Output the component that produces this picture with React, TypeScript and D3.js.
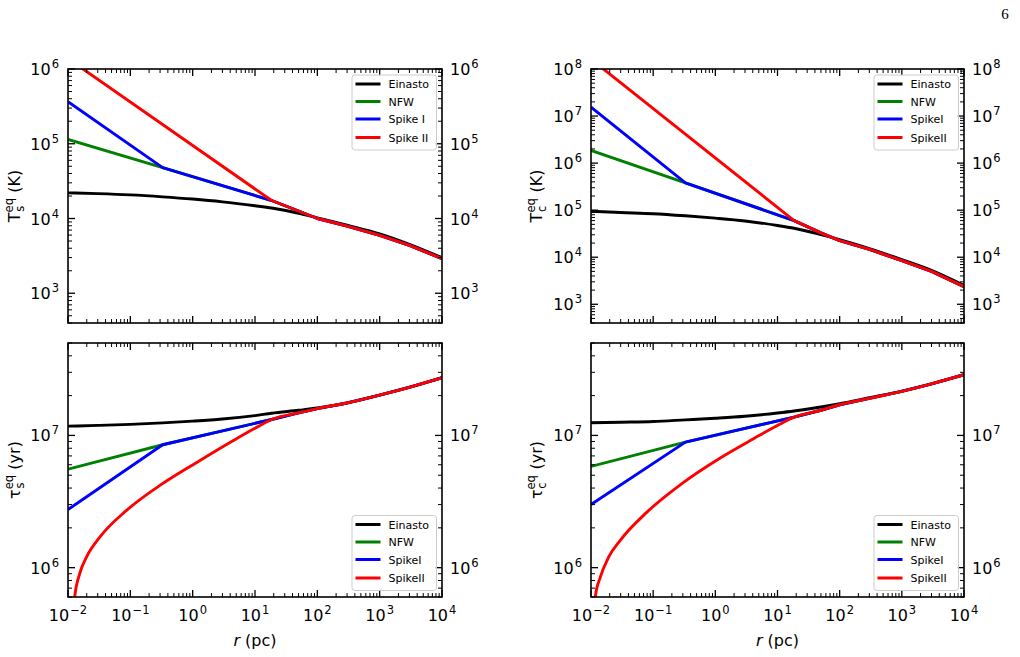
import React from 'react';
import * as d3 from 'd3';

const WIDTH = 1020;
const HEIGHT = 657;
const FONT = 'DejaVu Sans, sans-serif';

// radius samples (pc)
const rEinasto = [0.01, 0.03, 0.1, 0.33, 1, 3, 10, 18.5, 50, 100, 300, 1000, 3000, 10000];
const rProfile = [0.01, 0.33, 18.5, 50, 100, 300, 1000, 3000, 10000];
const rSpikeII = [0.01, 18.5, 50, 100, 300, 1000, 3000, 10000];
const rSpikeIITauS = [0.012, 0.01282, 0.01542, 0.01977, 0.03236, 0.0869, 0.298, 1.309, 4.5, 12.08, 18.5, 50, 100, 300, 1000, 3000, 10000];
const rSpikeIITauC = [0.0113, 0.01172, 0.01413, 0.01919, 0.02958, 0.0794, 0.3083, 1.2, 4.11, 11.04, 18.5, 50, 100, 300, 1000, 3000, 10000];

// equilibrium temperature, s (K)
const tsEinasto = [2.2e4, 2.15e4, 2.07e4, 1.95e4, 1.82e4, 1.67e4, 1.48e4, 1.38e4, 1.175e4, 1.02e4, 8.13e3, 6.24e3, 4.52e3, 2.99e3];
const tsNFW = [1.14e5, 4.8e4, 1.74e4, 1.26e4, 1.0e4, 7.9e3, 5.95e3, 4.37e3, 2.9e3];
const tsSpikeI = [3.65e5, 4.8e4, 1.74e4, 1.26e4, 1.0e4, 7.9e3, 5.95e3, 4.37e3, 2.9e3];
const tsSpikeII = [1.38e6, 1.74e4, 1.26e4, 1.0e4, 7.9e3, 5.95e3, 4.37e3, 2.9e3];

// equilibrium temperature, c (K)
const tcEinasto = [9.48e4, 8.91e4, 8.41e4, 7.59e4, 6.76e4, 5.89e4, 4.73e4, 4.12e4, 3.02e4, 2.37e4, 1.53e4, 8.91e3, 5.25e3, 2.51e3];
const tcNFW = [1.86e6, 3.8e5, 6.0e4, 3.3e4, 2.26e4, 1.46e4, 8.5e3, 5.0e3, 2.37e3];
const tcSpikeI = [1.55e7, 3.8e5, 6.0e4, 3.3e4, 2.26e4, 1.46e4, 8.5e3, 5.0e3, 2.37e3];
const tcSpikeII = [1.62e8, 6.0e4, 3.3e4, 2.26e4, 1.46e4, 8.5e3, 5.0e3, 2.37e3];

// equilibrium timescale, s (yr)
const tauSEinasto = [1.175e7, 1.191e7, 1.213e7, 1.245e7, 1.282e7, 1.33e7, 1.413e7, 1.472e7, 1.549e7, 1.611e7, 1.758e7, 2.018e7, 2.317e7, 2.729e7];
const tauSNFW = [5.56e6, 8.5e6, 1.32e7, 1.48e7, 1.596e7, 1.76e7, 2.02e7, 2.31e7, 2.73e7];
const tauSSpikeI = [2.75e6, 8.5e6, 1.32e7, 1.48e7, 1.596e7, 1.76e7, 2.02e7, 2.31e7, 2.73e7];
const tauSSpikeII = [4.0e5, 6.0e5, 9.0e5, 1.2e6, 1.7e6, 2.71e6, 4.19e6, 6.47e6, 9.16e6, 1.19e7, 1.32e7, 1.48e7, 1.596e7, 1.76e7, 2.02e7, 2.31e7, 2.73e7];

// equilibrium timescale, c (yr)
const tauCEinasto = [1.247e7, 1.259e7, 1.274e7, 1.312e7, 1.349e7, 1.396e7, 1.479e7, 1.531e7, 1.641e7, 1.738e7, 1.928e7, 2.163e7, 2.455e7, 2.877e7];
const tauCNFW = [5.83e6, 8.9e6, 1.374e7, 1.55e7, 1.706e7, 1.905e7, 2.153e7, 2.455e7, 2.877e7];
const tauCSpikeI = [3.0e6, 8.9e6, 1.374e7, 1.55e7, 1.706e7, 1.905e7, 2.153e7, 2.455e7, 2.877e7];
const tauCSpikeII = [4.5e5, 6.0e5, 8.49e5, 1.2e6, 1.61e6, 2.63e6, 4.42e6, 6.76e6, 9.44e6, 1.22e7, 1.374e7, 1.55e7, 1.706e7, 1.905e7, 2.153e7, 2.455e7, 2.877e7];

const COLORS = ['#000000', '#008000', '#0000ff', '#ff0000'];
const labelsSpaced = ['Einasto', 'NFW', 'Spike I', 'Spike II'];
const labelsJoined = ['Einasto', 'NFW', 'SpikeI', 'SpikeII'];

const X_DOMAIN: [number, number] = [1e-2, 1e4];

type Series = { r: number[]; v: number[]; smooth?: boolean };

interface PanelProps {
  id: string;
  left: number;
  top: number;
  width: number;
  height: number;
  yDomain: [number, number];
  series: Series[];
  legendLabels: string[];
  legendAtTop: boolean;
  symbol: string;
  sub: string;
  unit: string;
  labelX: number;
  showX: boolean;
}

const isMajor = (t: number) => Math.abs(Math.log10(t) - Math.round(Math.log10(t))) < 1e-6;
const expText = (t: number) => {
  const k = Math.round(Math.log10(t));
  return k < 0 ? '\u2212' + Math.abs(k) : String(k);
};

function Panel(p: PanelProps) {
  const { left, top, width: w, height: h } = p;
  const xs = d3.scaleLog().domain(X_DOMAIN).range([0, w]);
  const ys = d3.scaleLog().domain(p.yDomain).range([h, 0]);
  const makeLine = (smooth?: boolean) =>
    d3
      .line<[number, number]>()
      .x((d) => xs(d[0]))
      .y((d) => ys(d[1]))
      .curve(smooth ? d3.curveMonotoneX : d3.curveLinear);

  const xTicks = xs.ticks();
  const yTicks = ys.ticks();
  const MAJ = 7;
  const MIN = 4;

  const legW = 84.5;
  const legH = 75;
  const legX = w - 5.5 - legW;
  const legY = p.legendAtTop ? 6 : h - 6.5 - legH;
  const rowY = [9, 26.5, 44, 62.5];

  return (
    <g transform={`translate(${left},${top})`}>
      <defs>
        <clipPath id={p.id}>
          <rect x={0} y={0} width={w} height={h} />
        </clipPath>
      </defs>

      {/* curves */}
      <g clipPath={`url(#${p.id})`}>
        {p.series.map((s, i) => (
          <path
            key={i}
            d={makeLine(s.smooth)(s.r.map((r, j) => [r, s.v[j]] as [number, number])) || ''}
            fill="none"
            stroke={COLORS[i]}
            strokeWidth={2.9}
            strokeLinejoin="round"
          />
        ))}
      </g>

      {/* ticks, pointing inwards on all sides */}
      <g stroke="#000">
        {xTicks.map((t, i) => {
          const len = isMajor(t) ? MAJ : MIN;
          const x = xs(t);
          return (
            <g key={'x' + i} strokeWidth={isMajor(t) ? 1.3 : 1}>
              <line x1={x} x2={x} y1={h} y2={h - len} />
              <line x1={x} x2={x} y1={0} y2={len} />
            </g>
          );
        })}
        {yTicks.map((t, i) => {
          const len = isMajor(t) ? MAJ : MIN;
          const y = ys(t);
          return (
            <g key={'y' + i} strokeWidth={isMajor(t) ? 1.3 : 1}>
              <line x1={0} x2={len} y1={y} y2={y} />
              <line x1={w} x2={w - len} y1={y} y2={y} />
            </g>
          );
        })}
      </g>

      <rect x={0} y={0} width={w} height={h} fill="none" stroke="#000" strokeWidth={1.6} />

      {/* y tick labels on both sides */}
      <g fontFamily={FONT} fontSize={16} fill="#000">
        {yTicks.filter(isMajor).map((t, i) => (
          <g key={'yl' + i}>
            <text x={-9} y={ys(t) + 6} textAnchor="end">
              10<tspan fontSize={11.5} dx={1} dy={-7}>{expText(t)}</tspan>
            </text>
            <text x={w + 8} y={ys(t) + 6} textAnchor="start">
              10<tspan fontSize={11.5} dx={1} dy={-7}>{expText(t)}</tspan>
            </text>
          </g>
        ))}
        {p.showX &&
          xTicks.filter(isMajor).map((t, i) => (
            <text key={'xl' + i} x={xs(t)} y={h + 23.5} textAnchor="middle">
              10<tspan fontSize={11.5} dx={1} dy={-7}>{expText(t)}</tspan>
            </text>
          ))}
        {p.showX && (
          <text x={w / 2} y={h + 49} textAnchor="middle">
            <tspan fontStyle="italic">r</tspan> (pc)
          </text>
        )}
      </g>

      {/* y axis label */}
      <text
        transform={`translate(${p.labelX - left},${h / 2}) rotate(-90)`}
        textAnchor="middle"
        fontFamily={FONT}
        fontSize={16}
        fill="#000"
      >
        <tspan>{p.symbol}</tspan>
        <tspan fontSize={11.5} dy={-7}>eq</tspan>
        <tspan fontSize={11.5} dx={-13.7} dy={11}>{p.sub}</tspan>
        <tspan dx={13} dy={-4}>({p.unit})</tspan>
      </text>

      {/* legend */}
      <g transform={`translate(${legX},${legY})`}>
        <rect width={legW} height={legH} rx={3} fill="#fff" fillOpacity={0.8} stroke="#cccccc" strokeWidth={1} />
        {p.legendLabels.map((lab, i) => (
          <g key={lab} transform={`translate(0,${rowY[i]})`}>
            <line x1={3.5} x2={28.5} y1={0} y2={0} stroke={COLORS[i]} strokeWidth={3} />
            <text x={36.5} y={4} fontFamily={FONT} fontSize={11} fill="#000">
              {lab}
            </text>
          </g>
        ))}
      </g>
    </g>
  );
}

export default function App() {
  const leftX = 68;
  const rightX = 591;
  const w = 374;
  const h = 254;
  const topY = 69;
  const botY = 343;

  return (
    <svg
      width={WIDTH}
      height={HEIGHT}
      viewBox={`0 0 ${WIDTH} ${HEIGHT}`}
      style={{ position: 'absolute', left: 0, top: 0, background: '#fff' }}
    >
      <rect width={WIDTH} height={HEIGHT} fill="#fff" />
      <text x={1005} y={19} fontFamily="Liberation Serif, DejaVu Serif, serif" fontSize={15} textAnchor="middle">
        6
      </text>

      <Panel
        id="clip-ts"
        left={leftX}
        top={topY}
        width={w}
        height={h}
        yDomain={[400, 1e6]}
        series={[
          { r: rEinasto, v: tsEinasto, smooth: true },
          { r: rProfile, v: tsNFW },
          { r: rProfile, v: tsSpikeI },
          { r: rSpikeII, v: tsSpikeII },
        ]}
        legendLabels={labelsSpaced}
        legendAtTop
        symbol="T"
        sub="s"
        unit="K"
        labelX={20}
        showX={false}
      />
      <Panel
        id="clip-tc"
        left={rightX}
        top={topY}
        width={w - 1}
        height={h}
        yDomain={[400, 1e8]}
        series={[
          { r: rEinasto, v: tcEinasto, smooth: true },
          { r: rProfile, v: tcNFW },
          { r: rProfile, v: tcSpikeI },
          { r: rSpikeII, v: tcSpikeII },
        ]}
        legendLabels={labelsJoined}
        legendAtTop
        symbol="T"
        sub="c"
        unit="K"
        labelX={542}
        showX={false}
      />
      <Panel
        id="clip-taus"
        left={leftX}
        top={botY}
        width={w}
        height={h}
        yDomain={[6e5, 5e7]}
        series={[
          { r: rEinasto, v: tauSEinasto, smooth: true },
          { r: rProfile, v: tauSNFW },
          { r: rProfile, v: tauSSpikeI },
          { r: rSpikeIITauS, v: tauSSpikeII, smooth: true },
        ]}
        legendLabels={labelsJoined}
        legendAtTop={false}
        symbol={'\u03c4'}
        sub="s"
        unit="yr"
        labelX={20}
        showX
      />
      <Panel
        id="clip-tauc"
        left={rightX}
        top={botY}
        width={w - 1}
        height={h}
        yDomain={[6e5, 5e7]}
        series={[
          { r: rEinasto, v: tauCEinasto, smooth: true },
          { r: rProfile, v: tauCNFW },
          { r: rProfile, v: tauCSpikeI },
          { r: rSpikeIITauC, v: tauCSpikeII, smooth: true },
        ]}
        legendLabels={labelsJoined}
        legendAtTop={false}
        symbol={'\u03c4'}
        sub="c"
        unit="yr"
        labelX={542}
        showX
      />
    </svg>
  );
}
